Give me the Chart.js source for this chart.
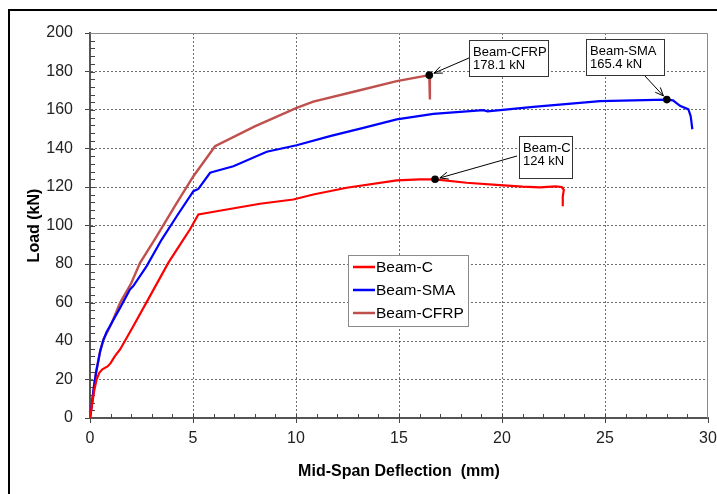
<!DOCTYPE html>
<html>
<head>
<meta charset="utf-8">
<script src="https://cdn.jsdelivr.net/npm/chart.js@4.4.0/dist/chart.umd.min.js"></script>
<style>
  body { margin: 0; background: #fff; }
  #wrap { width: 717px; height: 494px; }
</style>
</head>
<body>
<div id="wrap"><canvas id="loadChart" width="717" height="494"></canvas></div>
<script>
// Load - deflection readings
const cDefl = [0, 0.1, 0.2, 0.32, 0.45, 0.6, 0.85, 1.0, 1.2, 1.46, 2.1, 2.91, 3.8, 4.53, 4.85, 5.26, 6.15, 8.25, 9.87, 10.84, 12.46, 14.89, 16.0, 16.75, 18.28, 19.9, 21.0, 21.84, 22.6, 22.9, 23.0, 22.95, 22.95];
const cLoad = [0, 7, 14, 20, 23.5, 25.3, 26.8, 28.5, 32, 35.6, 47.7, 63.3, 80.6, 92.7, 97.9, 105.7, 107.4, 111.3, 113.5, 116.1, 119.6, 123.4, 124, 124, 122.2, 121, 120.2, 119.8, 120.3, 120, 118.5, 115, 110];

const smaDefl = [0, 0.1, 0.2, 0.3, 0.5, 0.65, 0.8, 1.46, 1.94, 2.1, 2.75, 3.48, 4.21, 5.02, 5.26, 5.83, 5.99, 6.96, 8.58, 10.03, 11.65, 13.27, 14.89, 16.67, 19.09, 19.3, 21.52, 24.76, 28.0, 28.3, 28.64, 29.05, 29.16, 29.24];
const smaLoad = [0, 8, 17, 24, 35, 40.5, 44.5, 57.2, 66.8, 68.5, 78.9, 92.7, 104.8, 117.8, 119, 127.4, 127.9, 130.8, 138.3, 141.7, 146.4, 150.7, 155.1, 158, 159.9, 159.3, 161.6, 164.6, 165.4, 165, 162.2, 160.3, 156.8, 150];

const cfrpDefl = [0, 0.1, 0.2, 0.3, 0.5, 0.65, 1.0, 1.46, 2.0, 2.43, 3.16, 4.2, 5.02, 6.07, 8.0, 10.03, 10.84, 13.0, 14.89, 16.47, 16.5, 16.5];
const cfrpLoad = [0, 8, 17, 24, 35, 40.8, 48, 59.8, 70, 80.6, 93, 111.5, 125.6, 141.2, 151.5, 161.1, 164.4, 170, 175, 178.1, 172, 165.5];

const seriesNames = ['Beam-C', 'Beam-SMA', 'Beam-CFRP'];
const seriesColors = ['#ff0000', '#0000ff', '#c0504d'];

// peak markers and their callout labels
const peakDefl = [16.75, 28.0, 16.47];
const peakLoad = [124, 165.4, 178.1];
const peakText = ['124 kN', '165.4 kN', '178.1 kN'];

const xTicks = [0, 5, 10, 15, 20, 25, 30];
const yTicks = [0, 20, 40, 60, 80, 100, 120, 140, 160, 180, 200];

// callout box placement (pixels) and where each arrow leaves its box
const callouts = [
  { x: 519, y: 136, w: 53, h: 42, sx: 517, sy: 156 },
  { x: 586, y: 39, w: 78, h: 36, sx: 645, sy: 76 },
  { x: 469, y: 40, w: 79, h: 36, sx: 469, sy: 58 }
];

const FONT = "Arial, 'Liberation Sans', Helvetica, sans-serif";

function pairs(xs, ys) {
  return xs.map((x, i) => ({ x: x, y: ys[i] }));
}

const decor = {
  id: 'decor',
  beforeDraw(chart) {
    const c = chart.ctx;
    c.save();
    c.fillStyle = '#fff';
    c.fillRect(0, 0, chart.width, chart.height);
    // outer figure frame (left and top edges visible)
    c.strokeStyle = '#000';
    c.lineWidth = 2;
    c.beginPath();
    c.moveTo(9, chart.height);
    c.lineTo(9, 10);
    c.lineTo(chart.width, 10);
    c.stroke();
    c.restore();
  },
  beforeDatasetsDraw(chart) {
    const c = chart.ctx;
    const a = chart.chartArea;
    const xs = chart.scales.x, ys = chart.scales.y;
    c.save();
    // plot frame top + right
    c.strokeStyle = '#8a8a8a';
    c.lineWidth = 1;
    c.beginPath();
    c.moveTo(a.left, a.top + 0.5);
    c.lineTo(a.right - 0.5, a.top + 0.5);
    c.lineTo(a.right - 0.5, a.bottom);
    c.stroke();
    // inside tick marks, minor every 1 mm / 4 kN
    c.strokeStyle = '#444';
    c.beginPath();
    for (let v = 1; v < 30; v++) {
      const px = Math.round(xs.getPixelForValue(v)) + 0.5;
      c.moveTo(px, a.bottom);
      c.lineTo(px, a.bottom - 4);
    }
    for (let v = 4; v < 200; v += 4) {
      const py = Math.round(ys.getPixelForValue(v)) + 0.5;
      c.moveTo(a.left, py);
      c.lineTo(a.left + 5, py);
    }
    c.stroke();
    c.restore();
  },
  afterDraw(chart) {
    const c = chart.ctx;
    const xs = chart.scales.x, ys = chart.scales.y;
    c.save();

    // legend box
    const lx = 348, ly = 255, lw = 120, lh = 71;
    c.fillStyle = '#fff';
    c.fillRect(lx, ly, lw, lh);
    c.strokeStyle = '#8a8a8a';
    c.lineWidth = 1;
    c.strokeRect(lx + 0.5, ly + 0.5, lw, lh);
    c.font = '15.5px ' + FONT;
    c.textBaseline = 'middle';
    seriesNames.forEach((name, i) => {
      const yy = ly + 12 + i * 23;
      c.strokeStyle = seriesColors[i];
      c.lineWidth = 2.5;
      c.beginPath();
      c.moveTo(lx + 5, yy);
      c.lineTo(lx + 27, yy);
      c.stroke();
      c.fillStyle = '#000';
      c.fillText(name, lx + 28, yy + 1);
    });

    // peak callouts
    c.font = '13px ' + FONT;
    peakDefl.forEach((d, i) => {
      const px = xs.getPixelForValue(d);
      const py = ys.getPixelForValue(peakLoad[i]);
      const b = callouts[i];

      c.fillStyle = '#fff';
      c.fillRect(b.x, b.y, b.w, b.h);
      c.strokeStyle = '#333';
      c.lineWidth = 1;
      c.strokeRect(b.x + 0.5, b.y + 0.5, b.w, b.h);
      c.fillStyle = '#000';
      c.textBaseline = 'middle';
      c.fillText(seriesNames[i], b.x + 4, b.y + 12);
      c.fillText(peakText[i], b.x + 4, b.y + 25);

      // arrow from box to marker
      const dx = px - b.sx, dy = py - b.sy;
      const len = Math.sqrt(dx * dx + dy * dy);
      const tx = px - dx / len * 5, ty = py - dy / len * 5;
      const ang = Math.atan2(ty - b.sy, tx - b.sx);
      c.strokeStyle = '#000';
      c.beginPath();
      c.moveTo(b.sx, b.sy);
      c.lineTo(tx, ty);
      c.moveTo(tx - 9 * Math.cos(ang - 0.4), ty - 9 * Math.sin(ang - 0.4));
      c.lineTo(tx, ty);
      c.lineTo(tx - 9 * Math.cos(ang + 0.4), ty - 9 * Math.sin(ang + 0.4));
      c.stroke();

      c.fillStyle = '#000';
      c.beginPath();
      c.arc(px, py, 3.8, 0, Math.PI * 2);
      c.fill();
    });
    c.restore();
  }
};

document.addEventListener("DOMContentLoaded", function() {
  const ctx = document.getElementById("loadChart").getContext("2d");
  const gridColor = (max) => (c) =>
    (c.tick && (c.tick.value === 0 || c.tick.value === max)) ? 'rgba(0,0,0,0)' : 'rgba(60,60,60,0.75)';

  new Chart(ctx, {
    type: 'line',
    data: {
      datasets: [
        { label: seriesNames[0], data: pairs(cDefl, cLoad), borderColor: seriesColors[0], borderWidth: 2.2 },
        { label: seriesNames[1], data: pairs(smaDefl, smaLoad), borderColor: seriesColors[1], borderWidth: 2.2 },
        { label: seriesNames[2], data: pairs(cfrpDefl, cfrpLoad), borderColor: seriesColors[2], borderWidth: 2.4 }
      ]
    },
    options: {
      responsive: false,
      animation: false,
      elements: { point: { radius: 0 }, line: { tension: 0 } },
      layout: { padding: { top: 33, right: 0, left: 0, bottom: 0 } },
      plugins: { legend: { display: false }, tooltip: { enabled: false } },
      scales: {
        x: {
          type: 'linear',
          min: 0,
          max: 30,
          afterFit: (s) => { s.height = 76; s.paddingRight = 9; },
          afterBuildTicks: (s) => { s.ticks = xTicks.map(v => ({ value: v })); },
          ticks: { color: '#222', font: { family: FONT, size: 16 }, padding: 6, maxRotation: 0 },
          grid: { color: gridColor(30), lineWidth: 1, tickLength: 5, tickColor: '#444' },
          border: { color: '#555', width: 2, dash: [2, 2] },
          title: {
            display: true,
            text: 'Mid-Span Deflection  (mm)',
            color: '#000',
            font: { family: FONT, size: 16, weight: 'bold' },
            padding: { top: 0, bottom: 13 }
          }
        },
        y: {
          min: 0,
          max: 200,
          afterFit: (s) => { s.width = 90; },
          afterBuildTicks: (s) => { s.ticks = yTicks.map(v => ({ value: v })); },
          ticks: { color: '#222', font: { family: FONT, size: 16 }, padding: 12 },
          grid: { color: gridColor(200), lineWidth: 1, tickLength: 5, tickColor: '#444' },
          border: { color: '#555', width: 2, dash: [2, 2] },
          title: {
            display: true,
            text: 'Load (kN)',
            color: '#000',
            font: { family: FONT, size: 16, weight: 'bold' },
            padding: { top: 25, bottom: 0 }
          }
        }
      }
    },
    plugins: [decor]
  });
});
</script>
</body>
</html>
